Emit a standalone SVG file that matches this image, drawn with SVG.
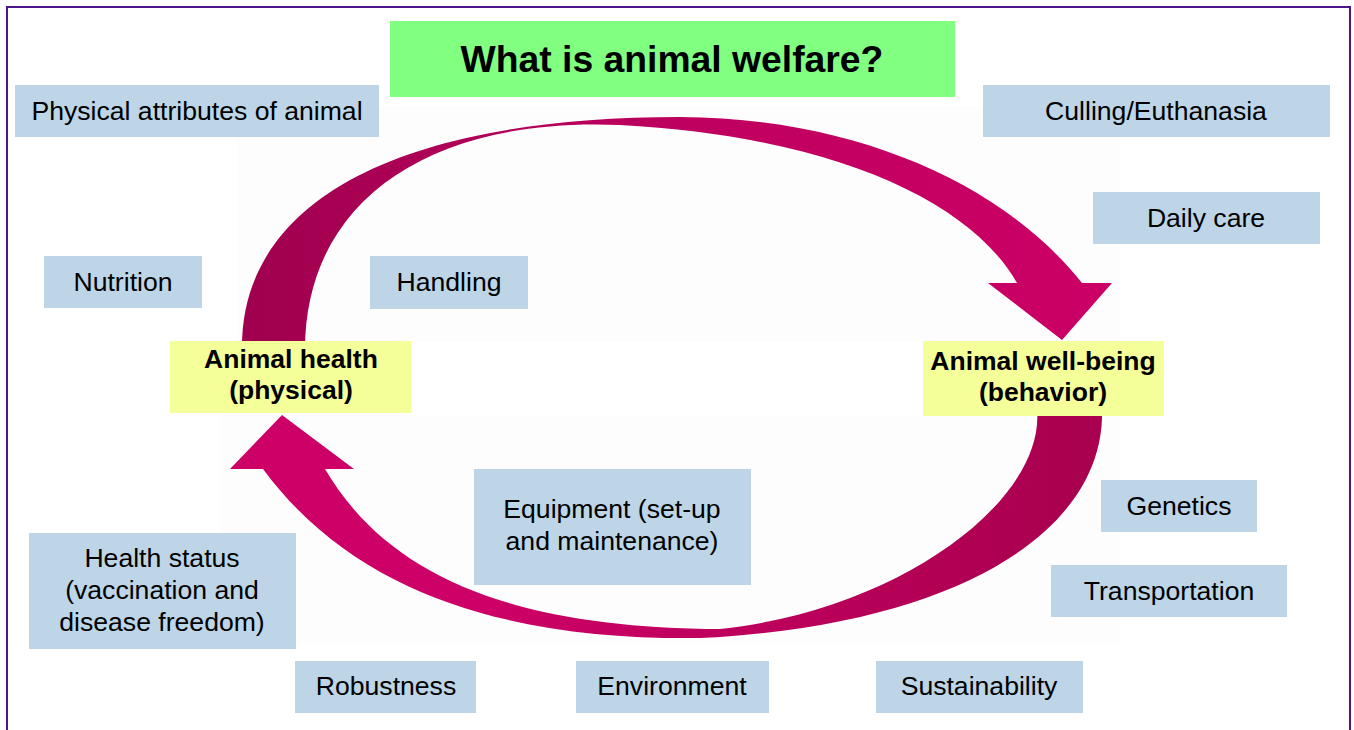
<svg xmlns="http://www.w3.org/2000/svg" width="1354" height="730" viewBox="0 0 1354 730">
  <defs>
    <linearGradient id="gTop" gradientUnits="userSpaceOnUse" x1="240" y1="0" x2="1110" y2="0">
      <stop offset="0" stop-color="#a0004f"/>
      <stop offset="0.55" stop-color="#c00060"/>
      <stop offset="1" stop-color="#cc0066"/>
    </linearGradient>
    <linearGradient id="gBot" gradientUnits="userSpaceOnUse" x1="1105" y1="0" x2="500" y2="0">
      <stop offset="0" stop-color="#a8004f"/>
      <stop offset="1" stop-color="#cc0066"/>
    </linearGradient>
  </defs>
  <style>
    .box { fill: #bdd5e6; }
    .key { fill: #f5ff99; }
    .title { fill: #80ff80; }
    text { font-family: "Liberation Sans", Arial, sans-serif; fill: #000; text-anchor: middle; }
    .t { font-size: 26.6px; }
    .b { font-size: 26.5px; font-weight: bold; }
    .h { font-size: 37.3px; font-weight: bold; }
  </style>
  <rect x="0" y="0" width="1354" height="730" fill="#ffffff"/>
  <rect x="7" y="7" width="1343" height="740" fill="none" stroke="#4b1687" stroke-width="2"/>
  <rect x="237" y="106" width="883" height="236" fill="#fdfdfd"/>
  <rect x="220" y="415" width="900" height="230" fill="#fdfdfd"/>

  <g id="connectors">
    <path id="arrow-top" fill="url(#gTop)" d="M 242 350 C 240 200, 400 117, 680 117 C 850 118, 1000 180, 1082 283 L 1112 283 L 1062 340 L 988 283 L 1017 283 C 970 200, 830 136, 620 125 C 430 117, 305 200, 305 350 Z"/>
    <path id="arrow-bottom" fill="url(#gBot)" d="M 1102 410 C 1105 530, 960 625, 700 638 C 520 640, 360 600, 263 469 L 230 469 L 282 415 L 354 469 L 325 469 C 390 580, 520 628, 720 629 C 900 610, 1045 500, 1037 410 Z"/>
  </g>

  <g id="title"><rect class="title" x="390" y="21" width="565" height="76"/><text class="h" x="672" y="72">What is animal welfare?</text></g>
  <g id="physical-attributes"><rect class="box" x="15" y="85" width="364" height="52"/><text class="t" x="197" y="120">Physical attributes of animal</text></g>
  <g id="culling"><rect class="box" x="983" y="85" width="347" height="52"/><text class="t" x="1156" y="120">Culling/Euthanasia</text></g>
  <g id="daily-care"><rect class="box" x="1093" y="192" width="227" height="52"/><text class="t" x="1206" y="227">Daily care</text></g>
  <g id="nutrition"><rect class="box" x="44" y="256" width="158" height="52"/><text class="t" x="123" y="291">Nutrition</text></g>
  <g id="handling"><rect class="box" x="370" y="256" width="158" height="53"/><text class="t" x="449" y="291">Handling</text></g>
  <g id="animal-health"><rect class="key" x="170" y="341" width="241" height="72"/><text class="b" x="291" y="368">Animal health</text><text class="b" x="291" y="399">(physical)</text></g>
  <g id="animal-well-being"><rect class="key" x="923" y="341" width="241" height="75"/><text class="b" x="1043" y="370">Animal well-being</text><text class="b" x="1043" y="401">(behavior)</text></g>
  <g id="genetics"><rect class="box" x="1101" y="480" width="156" height="52"/><text class="t" x="1179" y="515">Genetics</text></g>
  <g id="transportation"><rect class="box" x="1051" y="565" width="236" height="52"/><text class="t" x="1169" y="600">Transportation</text></g>
  <g id="equipment"><rect class="box" x="474" y="469" width="277" height="116"/><text class="t" x="612" y="518">Equipment (set-up</text><text class="t" x="612" y="550">and maintenance)</text></g>
  <g id="health-status"><rect class="box" x="29" y="533" width="267" height="116"/><text class="t" x="162" y="567">Health status</text><text class="t" x="162" y="599">(vaccination and</text><text class="t" x="162" y="631">disease freedom)</text></g>
  <g id="robustness"><rect class="box" x="295" y="661" width="181" height="52"/><text class="t" x="386" y="695">Robustness</text></g>
  <g id="environment"><rect class="box" x="576" y="661" width="193" height="52"/><text class="t" x="672" y="695">Environment</text></g>
  <g id="sustainability"><rect class="box" x="876" y="661" width="207" height="52"/><text class="t" x="979" y="695">Sustainability</text></g>
</svg>
